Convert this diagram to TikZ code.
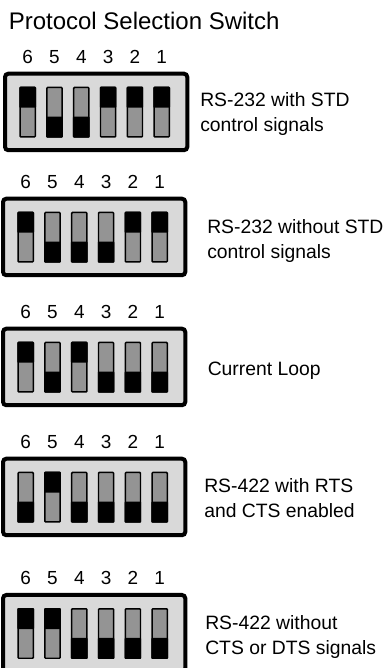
\documentclass[tikz,border=0pt]{standalone}
\usepackage{fontspec}
\setmainfont{Liberation Sans}
\usetikzlibrary{positioning}
\definecolor{panelgray}{HTML}{D9D9D9}
\definecolor{slidegray}{HTML}{949494}

\begin{document}
\begin{tikzpicture}[x=0.75pt, y=-0.75pt,
  panel/.style={draw, line width=3pt, rounded corners=2.5pt, fill=panelgray, minimum width=136.7pt, minimum height=57.4pt, inner sep=0pt},
  slide/.style={draw, line width=1.1pt, fill=slidegray, rounded corners=0.6pt, minimum width=11.4pt, minimum height=37.1pt, inner sep=0pt},
  knob/.style={fill=black, rounded corners=0.6pt, minimum width=12.5pt, minimum height=15.75pt, inner sep=0pt, outer sep=0pt},
  num/.style={anchor=base, inner sep=0pt, font=\fontsize{14.2}{14}\selectfont},
  caption/.style={anchor=base west, inner sep=0pt, align=left, font=\fontsize{14.5}{18.4}\selectfont},
  heading/.style={anchor=base west, inner sep=0pt, font=\fontsize{18}{18}\selectfont}]
  \useasboundingbox (0,0) rectangle (383,668);

  \node[heading] (title) at (8.5,29.3) {Protocol Selection Switch};

  % one panel per protocol, 1 = lever up, 0 = lever down (switches 6 to 1)
  \foreach \blk/\top/\xoff/\states in {a/71.7/2/{1,0,0,1,1,1}, b/196.7/0/{1,0,0,0,1,1},
      c/326.7/0/{1,0,1,0,0,0}, d/456.7/0/{0,1,0,0,0,0}, e/593/0/{1,1,0,0,0,0}} {
    \node[panel] (panel-\blk) at (94.15+\xoff,\top+40.25) {};
    \foreach \st [count=\i] in \states {
      \pgfmathtruncatemacro{\n}{7-\i}
      \node[slide] (sw-\blk-\n) at (\xoff+25.7+26.8*\i-26.8,\top+40.5) {};
      \ifnum\st=1
        \node[knob, anchor=north] (knob-\blk-\n) at (sw-\blk-\n.north) {};
      \else
        \node[knob, anchor=south] (knob-\blk-\n) at (sw-\blk-\n.south) {};
      \fi
      \node[num] (num-\blk-\n) at ([yshift=17.55pt]sw-\blk-\n.north) {\n};
    }
  }

  \node[caption] (cap-a) at (200,131) {RS-232 with STD\\control signals};
  \node[caption] (cap-b) at (207,258.5) {RS-232 without STD\\control signals};
  \node[caption] (cap-c) at (207.5,375) {Current Loop};
  \node[caption] (cap-d) at (204,517.3) {RS-422 with RTS\\and CTS enabled};
  \node[caption] (cap-e) at (205,654) {RS-422 without\\CTS or DTS signals};
\end{tikzpicture}
\end{document}
